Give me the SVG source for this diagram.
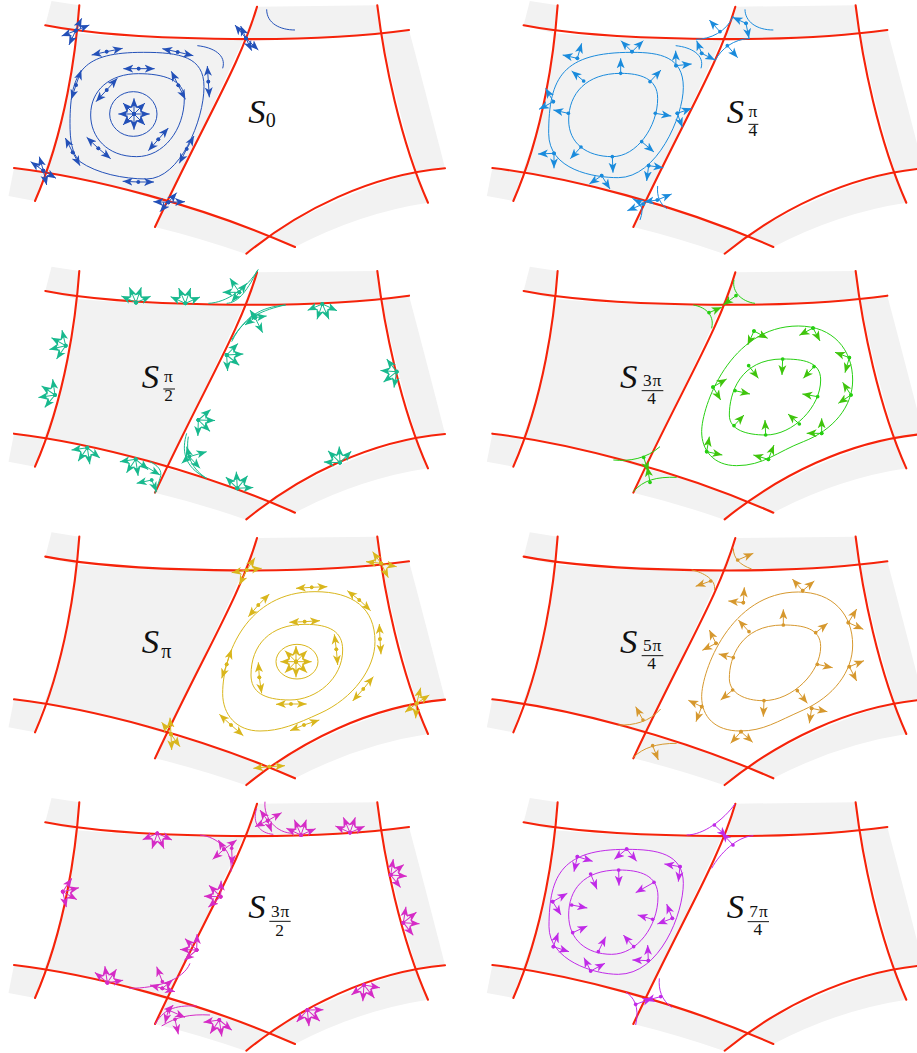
<svg xmlns="http://www.w3.org/2000/svg" width="917" height="1053" viewBox="0 0 917 1053">
<style>
.g{fill:#f2f2f2;stroke:none}
.r{fill:none;stroke:#f5230a;stroke-width:2.1;stroke-linecap:round}
.p{fill:none;stroke-width:3}
.k{marker:none}
.t{font-family:"Liberation Serif","DejaVu Serif",serif;fill:#111;stroke:none;marker:none}
.s{font-size:104px;font-style:italic}
.n{font-size:60px}
.f{font-size:52px;text-anchor:middle;letter-spacing:3px}
.l{stroke:#111;stroke-width:3;marker:none}
.p0{stroke:#2350b8;marker-start:url(#d0);marker-end:url(#h0)}
.p1{stroke:#1a8bdc;marker-start:url(#d1);marker-end:url(#h1)}
.p2{stroke:#18b98e;marker-start:url(#d2);marker-end:url(#h2)}
.p3{stroke:#27cf12;marker-start:url(#d3);marker-end:url(#h3)}
.p4{stroke:#d9b61c;marker-start:url(#d4);marker-end:url(#h4)}
.p5{stroke:#d6982e;marker-start:url(#d5);marker-end:url(#h5)}
.p6{stroke:#d52bc6;marker-start:url(#d6);marker-end:url(#h6)}
.p7{stroke:#c02ae8;marker-start:url(#d7);marker-end:url(#h7)}
</style>
<defs>
<path id="hd" d="M30 13L0 1L8 13L0 25Z"/>
<marker id="h0" markerUnits="userSpaceOnUse" markerWidth="34" markerHeight="26" refX="30" refY="13" orient="auto"><use href="#hd" fill="#2350b8"/></marker>
<marker id="h1" markerUnits="userSpaceOnUse" markerWidth="34" markerHeight="26" refX="30" refY="13" orient="auto"><use href="#hd" fill="#1a8bdc"/></marker>
<marker id="h2" markerUnits="userSpaceOnUse" markerWidth="34" markerHeight="26" refX="30" refY="13" orient="auto"><use href="#hd" fill="#18b98e"/></marker>
<marker id="h3" markerUnits="userSpaceOnUse" markerWidth="34" markerHeight="26" refX="30" refY="13" orient="auto"><use href="#hd" fill="#3fc40c"/></marker>
<marker id="h4" markerUnits="userSpaceOnUse" markerWidth="34" markerHeight="26" refX="30" refY="13" orient="auto"><use href="#hd" fill="#d9b61c"/></marker>
<marker id="h5" markerUnits="userSpaceOnUse" markerWidth="34" markerHeight="26" refX="30" refY="13" orient="auto"><use href="#hd" fill="#d6982e"/></marker>
<marker id="h6" markerUnits="userSpaceOnUse" markerWidth="34" markerHeight="26" refX="30" refY="13" orient="auto"><use href="#hd" fill="#d52bc6"/></marker>
<marker id="h7" markerUnits="userSpaceOnUse" markerWidth="34" markerHeight="26" refX="30" refY="13" orient="auto"><use href="#hd" fill="#c02ae8"/></marker>
<marker id="d0" markerUnits="userSpaceOnUse" markerWidth="14" markerHeight="14" refX="7" refY="7"><circle cx="7" cy="7" r="5.5" fill="#2350b8"/></marker>
<marker id="d1" markerUnits="userSpaceOnUse" markerWidth="14" markerHeight="14" refX="7" refY="7"><circle cx="7" cy="7" r="5.5" fill="#1a8bdc"/></marker>
<marker id="d2" markerUnits="userSpaceOnUse" markerWidth="14" markerHeight="14" refX="7" refY="7"><circle cx="7" cy="7" r="5.5" fill="#18b98e"/></marker>
<marker id="d3" markerUnits="userSpaceOnUse" markerWidth="14" markerHeight="14" refX="7" refY="7"><circle cx="7" cy="7" r="5.5" fill="#27cf12"/></marker>
<marker id="d4" markerUnits="userSpaceOnUse" markerWidth="14" markerHeight="14" refX="7" refY="7"><circle cx="7" cy="7" r="5.5" fill="#d9b61c"/></marker>
<marker id="d5" markerUnits="userSpaceOnUse" markerWidth="14" markerHeight="14" refX="7" refY="7"><circle cx="7" cy="7" r="5.5" fill="#d6982e"/></marker>
<marker id="d6" markerUnits="userSpaceOnUse" markerWidth="14" markerHeight="14" refX="7" refY="7"><circle cx="7" cy="7" r="5.5" fill="#d52bc6"/></marker>
<marker id="d7" markerUnits="userSpaceOnUse" markerWidth="14" markerHeight="14" refX="7" refY="7"><circle cx="7" cy="7" r="5.5" fill="#c02ae8"/></marker>
<g id="st"><path d="M0 0L0 -47"/><path d="M0 0L33 -33"/><path d="M0 0L47 0"/><path d="M0 0L33 33"/><path d="M0 0L0 47"/><path d="M0 0L-33 33"/><path d="M0 0L-47 0"/><path d="M0 0L-33 -33"/></g>
<g id="hs"><path d="M0 0L-44 -20"/><path d="M0 0L-20 -46"/><path d="M0 0L16 -46"/><path d="M0 0L44 -19"/></g>
<g id="base">
<path class="g" d="M75 33Q160 41 244 38.5L168 203Q105 183 44 172Q72 100 75 33Z"/>
<path class="g" d="M51.5 1L79.3 5.3L75 33L45.3 25.3Z"/>
<path class="g" d="M14 168L44 172L35 201L8.5 196Z"/>
<path class="g" d="M257 6.7L377.3 5.3L381.7 33Q310 41 244 38.5Z"/>
<path class="g" d="M409 30Q425 90 445 168L416.7 172Q395 100 381.7 33Z"/>
<path class="g" d="M269 235.7Q340 193 416.7 172L428 202.7Q360 213 295 247Z"/>
<path class="g" d="M155 227L168 203Q220 216 269 236L246 254Q200 238 155 227Z"/>
<path class="r" d="M79.3 5.3C76 50 66 130 35 201"/>
<path class="r" d="M45.3 25.3C120 40 300 45 409 30"/>
<path class="r" d="M14 168C90 177 200 205 295 247"/>
<path class="r" d="M257 6.7C240 65 205 120 155 227"/>
<path class="r" d="M377.3 5.3C384 60 400 140 428 202.7"/>
<path class="r" d="M246.3 253.7C300 210 370 175 445 168.3"/>
</g>
</defs>

<g id="surfaces">
<use href="#base"/>
<use href="#base" transform="translate(478.33 0)"/>
<use href="#base" transform="translate(0 265.67)"/>
<use href="#base" transform="translate(478.33 265.67)"/>
<use href="#base" transform="translate(0 531.33)"/>
<use href="#base" transform="translate(478.33 531.33)"/>
<use href="#base" transform="translate(0 797)"/>
<use href="#base" transform="translate(478.33 797)"/>
</g>

<g id="S0" class="p p0" transform="scale(.33333)">
<ellipse class="k" cx="400" cy="342" rx="71" ry="67"/>
<path class="k" d="M415 221C490 221 553 240 553 295C553 390 490 470 410 470C320 470 272 410 272 345C272 270 330 221 415 221Z"/>
<path class="k" d="M430 157C540 157 612 170 612 260C612 360 540 537 440 537C370 537 290 520 240 485C215 460 210 420 210 370C210 210 250 157 430 157Z"/>
<path class="k" d="M592 137C640 142 680 165 668 205"/>
<path class="k" d="M800 28C800 70 840 90 885 90"/>
<use href="#st" x="402" y="342"/>
<path d="M320 155L275 165"/><path d="M320 155L368 145"/>
<path d="M533 156L487 146"/><path d="M533 156L580 167"/>
<path d="M625 245L622 198"/><path d="M625 245L628 292"/>
<path d="M416 206L370 206"/><path d="M416 206L464 206"/>
<path d="M535 256L514 214"/><path d="M535 256L556 298"/>
<path d="M320 270L352 235"/><path d="M320 270L288 305"/>
<path d="M228 255L244 210"/><path d="M228 255L214 298"/>
<path d="M475 418L505 384"/><path d="M475 418L445 452"/>
<path d="M295 445L260 412"/><path d="M295 445L332 476"/>
<path d="M560 447L582 408"/><path d="M560 447L538 490"/>
<path d="M218 457L196 414"/><path d="M218 457L240 497"/>
<path d="M415 546L368 544"/><path d="M415 546L462 546"/>
<path d="M227 92L245 55"/><path d="M227 92L268 75"/><path d="M227 92L185 108"/><path d="M227 92L207 135"/>
<path d="M738 115L705 75"/><path d="M738 115L722 78"/><path d="M738 115L755 152"/><path d="M738 115L775 150"/>
<path d="M130 512L92 485"/><path d="M130 512L118 470"/><path d="M130 512L140 555"/><path d="M130 512L168 535"/>
<path d="M505 607L460 605"/><path d="M505 607L480 635"/><path d="M505 607L530 578"/><path d="M505 607L555 605"/>
<text class="t s" x="745" y="368">S</text><text class="t n" x="797" y="382">0</text>
</g>

<g id="S-pi-4" class="p p1" transform="translate(470 0) scale(.33333)">
<path class="k" d="M452 220C510 220 563 235 563 295C563 380 500 470 427 470C350 470 296 430 296 360C296 280 350 220 452 220Z"/>
<path class="k" d="M486 157C570 157 640 170 640 262C640 350 560 533 445 533C370 533 236 510 236 400C236 230 280 157 486 157Z"/>
<path class="k" d="M617 137C665 142 705 165 693 205"/>
<path class="k" d="M678 118C720 118 770 95 790 48"/>
<path class="k" d="M825 28C825 65 860 90 910 90"/>
<path class="k" d="M735 182C755 145 790 118 840 115"/>
<path class="k" d="M563 558C560 590 570 610 590 626"/>
<path class="k" d="M487 595C510 605 525 620 510 660"/>
<path d="M452 220L452 175"/><path d="M540 245L573 210"/><path d="M556 340L604 348"/><path d="M515 425L552 456"/><path d="M427 470L429 518"/><path d="M333 441L301 476"/><path d="M295 340L250 330"/><path d="M341 243L305 213"/>
<path d="M322 175L335 130"/><path d="M322 175L278 165"/>
<path d="M486 155L453 122"/><path d="M486 155L520 122"/>
<path d="M618 197L617 152"/><path d="M618 197L665 192"/>
<path d="M250 305L227 265"/><path d="M250 305L207 328"/>
<path d="M622 340L665 325"/><path d="M622 340L637 382"/>
<path d="M252 460L204 462"/><path d="M252 460L252 505"/>
<path d="M536 497L580 503"/><path d="M536 497L530 543"/>
<path d="M395 527L358 552"/><path d="M395 527L420 567"/>
<path d="M750 95L718 60"/><path d="M828 70L788 52"/><path d="M828 70L837 115"/>
<path d="M695 160L680 122"/><path d="M695 160L735 180"/>
<path d="M772 137L803 173"/>
<path d="M520 612L472 632"/><path d="M520 612L490 598"/><path d="M562 600L605 582"/><path d="M562 600L522 606"/>
<text class="t s" x="770" y="368">S</text><text class="t f" x="850" y="352">π</text><path class="l" d="M835 373H865"/><text class="t f" x="850" y="407">4</text>
</g>

<g id="S-pi-2" class="p p2" transform="translate(0 260) scale(.33333)">
<path class="k" d="M625 130C680 128 740 85 775 28"/>
<path class="k" d="M680 130C710 128 735 105 773 30"/>
<path class="k" d="M858 135C800 140 740 155 695 245"/>
<path class="k" d="M855 135C790 150 735 170 695 240"/>
<path class="k" d="M450 605C470 615 490 630 480 655C475 675 465 690 465 700"/>
<path class="k" d="M560 520C545 570 550 620 620 655"/>
<path class="k" d="M565 530C555 590 580 630 620 655"/>
<use href="#hs" transform="translate(408 128)"/>
<use href="#hs" transform="translate(556 130)"/>
<use href="#hs" transform="translate(967 132) rotate(180)"/>
<use href="#hs" transform="translate(197 257) rotate(-80)"/>
<use href="#hs" transform="translate(165 405) rotate(-75)"/>
<use href="#hs" transform="translate(262 563) rotate(195)"/>
<use href="#hs" transform="translate(407 598) rotate(195)"/>
<use href="#hs" transform="translate(712 685) rotate(20)"/>
<use href="#hs" transform="translate(1020 608) rotate(-22)"/>
<use href="#hs" transform="translate(1190 335) rotate(-105)"/>
<use href="#hs" transform="translate(680 285) rotate(110)"/>
<use href="#hs" transform="translate(595 480) rotate(115)"/>
<path d="M718 97L690 55"/><path d="M718 97L668 97"/><path d="M718 97L740 70"/><path d="M718 97L695 125"/>
<path d="M765 173L735 195"/><path d="M765 173L800 168"/><path d="M765 173L788 218"/><path d="M765 173L750 150"/>
<path d="M455 660L410 670"/><path d="M455 660L470 695"/><path d="M430 615L480 645"/>
<path d="M568 590L620 575"/><path d="M568 590L560 560"/><path d="M568 590L600 625"/><path d="M568 590L545 610"/>
<text class="t s" x="425" y="383">S</text><text class="t f" x="507" y="367">π</text><path class="l" d="M490 387H525"/><text class="t f" x="507" y="424">2</text>
</g>

<g id="S-3pi-4" class="p p3" transform="translate(470 260) scale(.33333)">
<path class="k" d="M938 297C1000 297 1052 305 1052 360C1052 440 970 525 887 525C830 525 778 510 778 465C778 400 810 297 938 297Z"/>
<path class="k" d="M985 198C1090 198 1148 270 1148 360C1148 440 1090 510 1000 545C920 576 880 617 800 617C730 617 695 570 695 515C695 440 780 198 985 198Z"/>
<path class="k" d="M670 135C700 140 735 160 725 205"/>
<path class="k" d="M792 60C785 95 815 125 855 130"/>
<path class="k" d="M430 600C480 605 530 595 570 560"/>
<path class="k" d="M490 695C520 660 560 650 620 652"/>
<path d="M938 297L936 345"/><path d="M1032 320L1000 355"/><path d="M1043 410L997 402"/><path d="M988 492L954 462"/><path d="M887 525L885 480"/><path d="M792 497L822 465"/><path d="M795 392L840 402"/><path d="M836 317L865 355"/>
<path d="M852 213L833 255"/><path d="M852 213L893 235"/>
<path d="M1029 204L988 226"/><path d="M1029 204L1050 243"/>
<path d="M1138 293L1095 277"/><path d="M1138 293L1125 338"/>
<path d="M1143 405L1118 367"/><path d="M1143 405L1105 430"/>
<path d="M1055 520L1010 520"/><path d="M1055 520L1055 475"/>
<path d="M895 598L850 585"/><path d="M895 598L912 555"/>
<path d="M710 575L718 530"/><path d="M710 575L757 585"/>
<path d="M729 381L770 357"/><path d="M729 381L752 420"/>
<path d="M717 158L755 142"/><path d="M798 107L760 135"/><path d="M521 592L535 635"/><path d="M540 667L532 620"/>
<text class="t s" x="450" y="383">S</text><text class="t f" x="548" y="378">3π</text><path class="l" d="M515 392H580"/><text class="t f" x="546" y="432">4</text>
</g>

<g id="S-pi" class="p p4" transform="translate(0 525) scale(.33333)">
<ellipse class="k" cx="891" cy="410" rx="63" ry="52"/>
<path class="k" d="M915 298C990 298 1028 320 1028 375C1028 460 950 525 870 525C790 525 753 500 753 450C753 360 810 298 915 298Z"/>
<path class="k" d="M945 200C1060 200 1125 250 1125 350C1125 430 1060 520 960 565C890 597 840 618 780 618C710 618 668 570 668 505C668 390 740 200 945 200Z"/>
<use href="#st" x="888" y="410"/>
<path d="M935 187L888 190"/><path d="M935 187L982 185"/>
<path d="M775 240L808 207"/><path d="M775 240L745 275"/>
<path d="M1078 225L1042 197"/><path d="M1078 225L1112 257"/>
<path d="M914 290L868 292"/><path d="M914 290L960 287"/>
<path d="M1140 342L1138 297"/><path d="M1140 342L1143 388"/>
<path d="M1009 373L1003 328"/><path d="M1009 373L1013 420"/>
<path d="M778 457L775 412"/><path d="M778 457L785 505"/>
<path d="M873 537L828 538"/><path d="M873 537L920 537"/>
<path d="M1090 492L1120 455"/><path d="M1090 492L1058 528"/>
<path d="M680 418L695 373"/><path d="M680 418L665 460"/>
<path d="M693 600L658 568"/><path d="M693 600L730 632"/>
<path d="M912 600L870 617"/><path d="M912 600L958 585"/>
<path d="M740 135L765 98"/><path d="M740 135L785 130"/><path d="M740 135L695 143"/><path d="M740 135L718 180"/>
<path d="M1143 115L1118 80"/><path d="M1143 115L1098 110"/><path d="M1143 115L1190 125"/><path d="M1143 115L1165 158"/>
<path d="M1250 535L1262 488"/><path d="M1250 535L1288 510"/><path d="M1250 535L1215 562"/><path d="M1250 535L1247 580"/>
<path d="M513 628L510 578"/><path d="M513 628L485 592"/><path d="M513 628L515 675"/><path d="M513 628L540 665"/>
<path d="M808 725L760 730"/><path d="M808 725L855 722"/>
<text class="t s" x="425" y="383">S</text><text class="t n" x="484" y="398">π</text>
</g>

<g id="S-5pi-4" class="p p5" transform="translate(470 525) scale(.33333)">
<path class="k" d="M940 300C1000 300 1052 310 1052 365C1052 440 970 527 880 527C825 527 778 505 778 460C778 400 810 300 940 300Z"/>
<path class="k" d="M985 201C1090 201 1148 270 1148 360C1148 440 1090 515 1000 555C920 590 880 618 810 618C735 618 695 575 695 515C695 440 780 201 985 201Z"/>
<path class="k" d="M665 135C700 142 740 165 733 195"/>
<path class="k" d="M790 70C790 100 810 120 845 132"/>
<path class="k" d="M445 600C490 602 540 590 572 552"/>
<path class="k" d="M490 697C520 668 560 655 620 655"/>
<path d="M940 300L940 253"/><path d="M1037 323L1073 295"/><path d="M1042 418L1088 428"/><path d="M982 497L1012 535"/><path d="M882 527L880 575"/><path d="M788 495L752 525"/><path d="M790 398L746 387"/><path d="M837 320L805 285"/>
<path d="M820 233L823 187"/><path d="M820 233L775 228"/>
<path d="M998 197L967 162"/><path d="M998 197L1033 168"/>
<path d="M1135 293L1160 252"/><path d="M1135 293L1180 313"/>
<path d="M738 355L718 315"/><path d="M738 355L697 376"/>
<path d="M1138 425L1182 407"/><path d="M1138 425L1160 468"/>
<path d="M695 545L655 526"/><path d="M695 545L678 590"/>
<path d="M1025 550L1072 560"/><path d="M1025 550L1018 595"/>
<path d="M813 620L782 655"/><path d="M813 620L848 652"/>
<path d="M722 168L677 184"/><path d="M803 105L850 85"/><path d="M519 585L497 545"/><path d="M548 662L565 705"/>
<text class="t s" x="450" y="383">S</text><text class="t f" x="548" y="378">5π</text><path class="l" d="M515 392H580"/><text class="t f" x="546" y="432">4</text>
</g>

<g id="S-3pi-2" class="p p6" transform="translate(0 790) scale(.33333)">
<path class="k" d="M600 135C650 140 700 180 693 245"/>
<path class="k" d="M795 35C790 85 830 130 880 130"/>
<path class="k" d="M770 55C755 100 780 130 820 133"/>
<path class="k" d="M570 520C550 570 470 595 388 595"/>
<path class="k" d="M465 703C490 660 520 645 590 648"/>
<path class="k" d="M485 708C530 680 570 672 630 675"/>
<use href="#hs" transform="translate(472 130) rotate(180)"/>
<use href="#hs" transform="translate(903 135)"/>
<use href="#hs" transform="translate(1050 128)"/>
<use href="#hs" transform="translate(188 305) rotate(100)"/>
<use href="#hs" transform="translate(1172 255) rotate(75)"/>
<use href="#hs" transform="translate(1210 398) rotate(75)"/>
<use href="#hs" transform="translate(662 320) rotate(-65)"/>
<use href="#hs" transform="translate(590 480) rotate(-65)"/>
<use href="#hs" transform="translate(322 578) rotate(15)"/>
<use href="#hs" transform="translate(658 690) rotate(195)"/>
<use href="#hs" transform="translate(922 660) rotate(155)"/>
<use href="#hs" transform="translate(1092 585) rotate(165)"/>
<path d="M672 178L638 208"/><path d="M672 178L710 150"/><path d="M672 178L655 150"/><path d="M695 175L697 225"/>
<path d="M803 92L845 68"/><path d="M803 92L780 60"/><path d="M803 92L815 125"/><path d="M803 92L765 110"/>
<path d="M487 575L470 530"/><path d="M487 595L450 585"/><path d="M487 595L518 570"/><path d="M487 595L525 605"/>
<path d="M525 688L535 733"/><path d="M505 660L495 700"/><path d="M505 660L555 682"/><path d="M505 660L520 645"/>
<text class="t s" x="745" y="385">S</text><text class="t f" x="842" y="381">3π</text><path class="l" d="M808 394H872"/><text class="t f" x="840" y="437">2</text>
</g>

<g id="S-7pi-4" class="p p7" transform="translate(470 790) scale(.33333)">
<path class="k" d="M446 240C510 240 564 255 564 320C564 410 500 493 425 493C350 493 296 450 296 375C296 300 340 240 446 240Z"/>
<path class="k" d="M470 178C560 178 640 190 640 280C640 370 570 553 445 553C370 553 237 510 237 410C237 250 280 178 470 178Z"/>
<path class="k" d="M650 135C700 135 760 90 795 42"/>
<path class="k" d="M725 235C750 190 800 140 850 137"/>
<path class="k" d="M468 607C490 620 510 650 497 705"/>
<path class="k" d="M568 565C565 600 575 630 605 652"/>
<path d="M446 240L447 287"/><path d="M552 277L497 308"/><path d="M548 388L503 375"/><path d="M491 470L460 435"/><path d="M385 485L407 440"/><path d="M308 428L352 408"/><path d="M305 345L352 354"/><path d="M362 252L381 298"/>
<path d="M322 200L368 214"/><path d="M322 200L312 245"/>
<path d="M470 177L433 208"/><path d="M470 177L500 214"/>
<path d="M630 230L583 222"/><path d="M630 230L625 275"/>
<path d="M607 385L590 342"/><path d="M607 385L562 402"/>
<path d="M535 512L487 510"/><path d="M535 512L533 465"/>
<path d="M362 543L342 503"/><path d="M362 543L405 520"/>
<path d="M250 470L297 485"/><path d="M250 470L265 428"/>
<path d="M248 335L292 310"/><path d="M248 335L273 375"/>
<path d="M733 105L770 140"/><path d="M789 165L755 128"/><path d="M497 643L547 625"/><path d="M572 620L525 632"/>
<text class="t s" x="770" y="385">S</text><text class="t f" x="867" y="382">7π</text><path class="l" d="M833 395H897"/><text class="t f" x="865" y="435">4</text>
</g>
</svg>
